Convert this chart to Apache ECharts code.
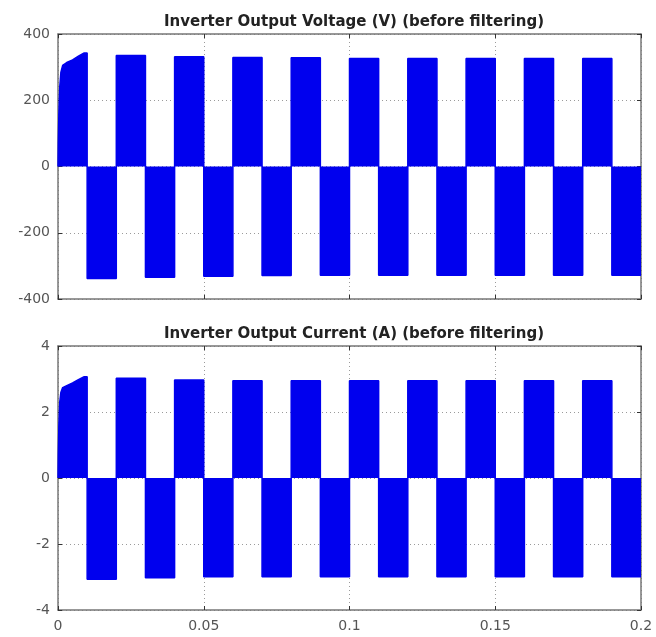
<!DOCTYPE html>
<html>
<head>
<meta charset="utf-8">
<script src="https://cdn.jsdelivr.net/npm/echarts@6/dist/echarts.min.js"></script>
<style>
  html, body { margin: 0; padding: 0; background: #fff; }
  #chart { width: 656px; height: 637px; }
</style>
</head>
<body>
<div id="chart"></div>
<script>
// switching instants of the square wave (s)
const edgeTimes = [0, 0.01, 0.02, 0.03, 0.04, 0.05, 0.06, 0.07, 0.08, 0.09, 0.1,
  0.11, 0.12, 0.13, 0.14, 0.15, 0.16, 0.17, 0.18, 0.19, 0.2]

// start-up transient inside the first half cycle
const startTimes = [0, 0.0001, 0.0003, 0.0006, 0.001, 0.0016, 0.003, 0.005, 0.007, 0.009]
const voltStart = [0, 70, 160, 240, 285, 305, 314, 322, 333, 343]
const currStart = [0, 0.7, 1.6, 2.3, 2.6, 2.74, 2.8, 2.88, 2.98, 3.07]

// level held during each following half cycle
const voltLevels = [343, -338, 335, -334, 331, -331, 329, -329, 328, -328,
  326, -328, 326, -328, 326, -328, 326, -328, 326, -328]
const currLevels = [3.07, -3.07, 3.02, -3.02, 2.97, -2.99, 2.95, -2.99, 2.95, -2.99,
  2.95, -2.99, 2.95, -2.99, 2.95, -2.99, 2.95, -2.99, 2.95, -2.99]

const titles = [
  'Inverter Output Voltage (V) (before filtering)',
  'Inverter Output Current (A) (before filtering)'
]

function buildWave (start, levels) {
  const pts = []
  for (let i = 0; i < startTimes.length; i++) pts.push([startTimes[i], start[i]])
  pts.push([edgeTimes[1], levels[0]])
  for (let i = 1; i < levels.length; i++) {
    pts.push([edgeTimes[i], levels[i]])
    pts.push([edgeTimes[i + 1], levels[i]])
  }
  return pts
}

const blue = '#0000ee'
const font = 'DejaVu Sans, Liberation Sans, sans-serif'
const grids = [
  { left: 58, top: 34, width: 583, height: 265 },
  { left: 58, top: 346, width: 583, height: 264 }
]
const yRange = [[-400, 400, 200], [-4, 4, 2]]

const splitLine = { show: true, lineStyle: { type: [1, 3], color: '#9a9a9a', width: 1 } }
const axisLine = { show: true, onZero: false, lineStyle: { color: '#777', width: 1.5 } }
const axisTick = { show: true, inside: true, length: 4, lineStyle: { color: '#333' } }

const xAxis = []
const yAxis = []
grids.forEach((g, i) => {
  const base = { gridIndex: i, type: 'value', min: 0, max: 0.2, interval: 0.05 }
  xAxis.push(Object.assign({}, base, {
    position: 'bottom',
    axisLine,
    axisTick,
    splitLine,
    axisLabel: {
      show: i === 1, color: '#555', fontSize: 14, fontFamily: font, margin: 9
    }
  }))
  xAxis.push(Object.assign({}, base, {
    position: 'top',
    axisLine,
    axisTick,
    splitLine: { show: false },
    axisLabel: { show: false }
  }))
  const yb = { gridIndex: i, type: 'value', min: yRange[i][0], max: yRange[i][1], interval: yRange[i][2] }
  yAxis.push(Object.assign({}, yb, {
    position: 'left',
    axisLine,
    axisTick,
    splitLine,
    axisLabel: { color: '#555', fontSize: 14, fontFamily: font, margin: 8 }
  }))
  yAxis.push(Object.assign({}, yb, {
    position: 'right',
    axisLine,
    axisTick,
    splitLine: { show: false },
    axisLabel: { show: false }
  }))
})

const waves = [buildWave(voltStart, voltLevels), buildWave(currStart, currLevels)]

const option = {
  backgroundColor: '#fff',
  animation: false,
  title: titles.map((t, i) => ({
    text: t,
    left: 349,
    top: i === 0 ? 10 : 322,
    textAlign: 'center',
    textStyle: { fontSize: 15, fontWeight: 'bold', color: '#222', fontFamily: font }
  })),
  grid: grids,
  xAxis,
  yAxis,
  series: waves.map((w, i) => ({
    type: 'line',
    xAxisIndex: i * 2,
    yAxisIndex: i * 2,
    data: w,
    showSymbol: false,
    lineStyle: { color: blue, width: 1.5 },
    areaStyle: { color: blue, opacity: 1, origin: 0 }
  }))
}

echarts.init(document.getElementById('chart')).setOption(option)
</script>
</body>
</html>
